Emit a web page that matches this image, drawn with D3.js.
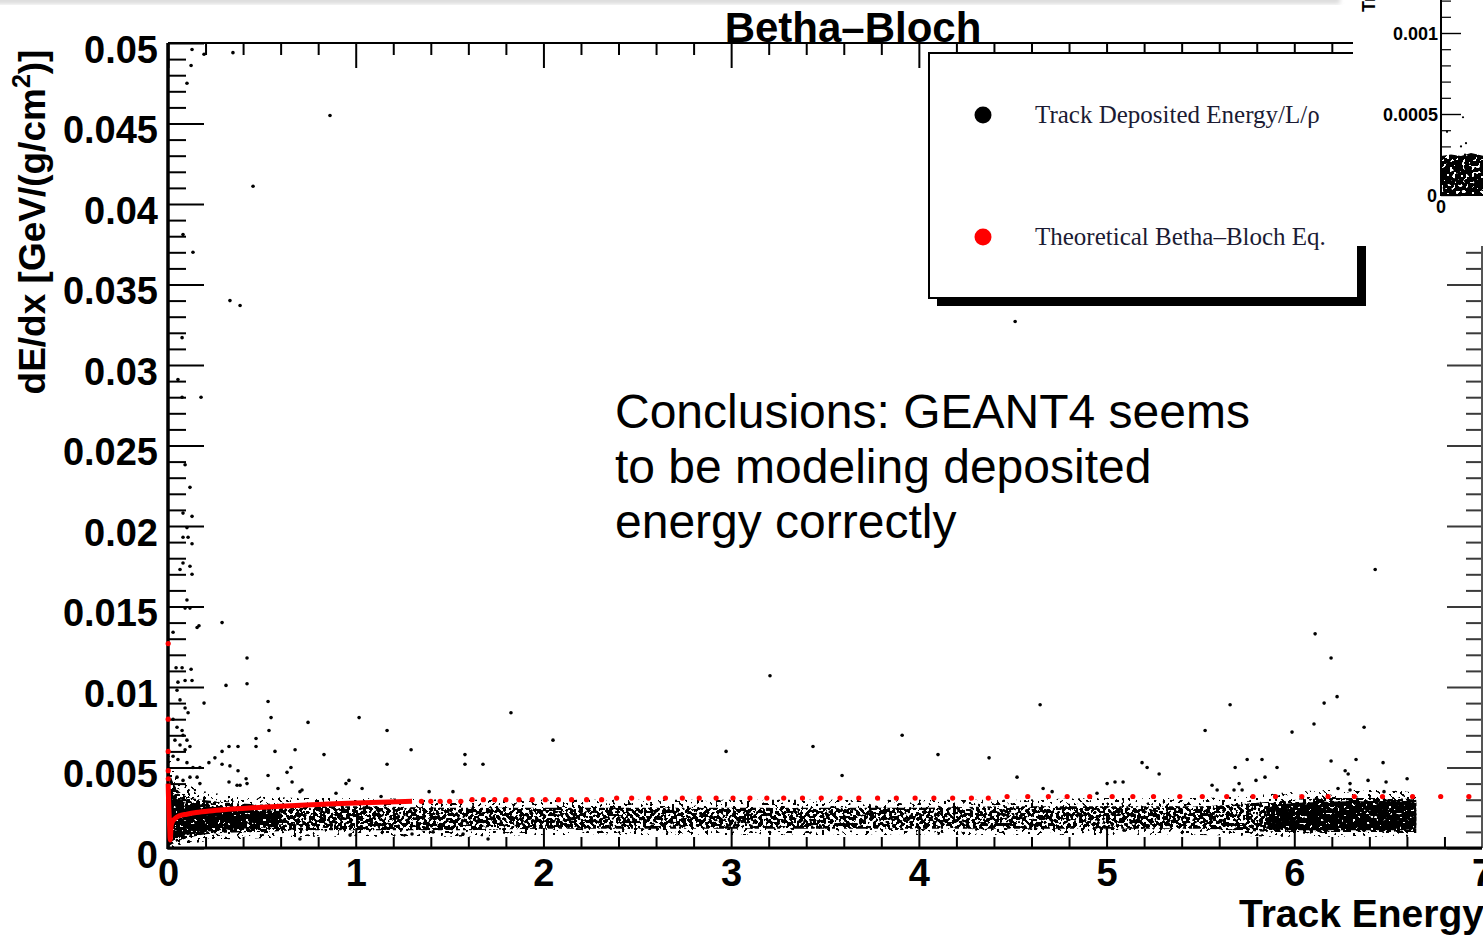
<!DOCTYPE html>
<html>
<head>
<meta charset="utf-8">
<script src="https://cdn.jsdelivr.net/npm/d3@7"></script>
<style>
  html, body { margin: 0; padding: 0; background: #fff; }
  svg { display: block; }
</style>
</head>
<body>
<svg id="chart" width="1483" height="935"></svg>
<script>
// ---- axis ticks ----
const xTicks = [0, 1, 2, 3, 4, 5, 6, 7];
const xTickLabels = ["0", "1", "2", "3", "4", "5", "6", "7"];
const yTicks = [0, 0.005, 0.01, 0.015, 0.02, 0.025, 0.03, 0.035, 0.04, 0.045, 0.05];
const yTickLabels = ["0", "0.005", "0.01", "0.015", "0.02", "0.025", "0.03", "0.035", "0.04", "0.045", "0.05"];

// ---- measured dE/dx: dense band of tracks (extent per energy) ----
const bandX  = [0, 0.03, 0.1, 0.25, 0.5, 0.75, 1, 1.5, 2, 2.5, 3, 3.5, 4, 4.5, 5, 5.5, 5.9, 6.2, 6.5, 6.65];
const bandLo = [0.0001, 0.0003, 0.0006, 0.0009, 0.0010, 0.0011, 0.0011, 0.0011, 0.0012, 0.0012, 0.0012, 0.0012, 0.0012, 0.0012, 0.0012, 0.0012, 0.0010, 0.0010, 0.0010, 0.0010];
const bandHi = [0.0050, 0.0040, 0.0032, 0.0029, 0.0027, 0.0026, 0.0026, 0.0025, 0.0025, 0.0025, 0.0025, 0.0025, 0.0025, 0.0026, 0.0026, 0.0026, 0.0029, 0.0031, 0.0031, 0.0030];
// sparse tails just outside the band
const tailLo = [0.0000, 0.0000, 0.0002, 0.0005, 0.0006, 0.0007, 0.0007, 0.0007, 0.0008, 0.0008, 0.0008, 0.0008, 0.0008, 0.0008, 0.0008, 0.0008, 0.0007, 0.0007, 0.0007, 0.0007];
const tailHi = [0.0060, 0.0050, 0.0040, 0.0034, 0.0032, 0.0031, 0.0031, 0.0030, 0.0030, 0.0030, 0.0030, 0.0030, 0.0030, 0.0030, 0.0031, 0.0031, 0.0034, 0.0036, 0.0036, 0.0034];
// most populated parts of the band
const coreX  = [0, 0.05, 0.2, 0.4, 0.6];
const coreLo = [0.0002, 0.0006, 0.0010, 0.0012, 0.0013];
const coreHi = [0.0040, 0.0030, 0.0026, 0.0024, 0.0023];
const core2X  = [5.85, 6.0, 6.3, 6.55, 6.65];
const core2Lo = [0.0012, 0.0011, 0.0011, 0.0011, 0.0012];
const core2Hi = [0.0025, 0.0028, 0.0029, 0.0029, 0.0028];

// ---- measured dE/dx: individual tracks outside the band ----
const trackE = [0.128,0.192,0.346,0.123,0.101,0.863,0.453,0.080,0.133,0.330,0.384,0.075,4.513,0.053,0.176,0.075,0.091,0.117,0.080,0.128,
  0.101,0.080,0.107,0.128,0.080,0.117,0.064,0.128,0.101,0.091,0.117,0.155,6.431,0.165,0.288,0.027,6.111,6.196,0.421,0.043,
  0.075,0.123,0.053,0.091,0.128,0.421,0.309,3.207,0.048,0.064,0.533,0.192,6.159,6.228,5.658,4.646,0.091,1.827,0.107,0.549,
  1.018,0.027,0.746,6.105,0.048,0.075,5.988,5.525,6.372,0.538,1.167,0.080,3.911,0.101,0.037,2.051,0.469,0.064,0.117,0.373,
  0.325,0.469,3.436,0.677,1.295,0.091,2.973,0.570,0.288,1.582,4.102,0.831,0.027,4.374,0.250,6.329,5.749,5.828,0.053,6.196,
  5.189,6.473,0.218,0.101,1.582,0.288,1.678,1.167,0.330,0.133,5.216,5.908,0.655,0.170,5.685,0.373,6.271,6.287,5.280,0.634,
  0.533,3.591,4.523,0.048,0.117,0.155,5.844,0.416,6.601,6.393,5.796,0.080,0.964,6.489,0.661,0.325,5.045,5.088,5.003,5.706,
  0.170,0.421,0.948,0.368,5.562,6.297,0.384,1.034,0.586,4.662,6.233,5.679,5.722,5.589,6.297,0.714,6.478,4.710,0.703,1.391,
  1.518,4.949,0.895,1.135,0.703,0.970,1.300,1.412,1.572,1.705,5.093];
const trackDEdx = [0.0496,0.0493,0.0494,0.0486,0.0475,0.0455,0.0411,0.0381,0.0370,0.0340,0.0337,0.0317,0.0327,0.0291,0.0280,0.0280,0.0238,0.0224,0.0208,0.0206,
  0.0199,0.0193,0.0193,0.0189,0.0177,0.0175,0.0173,0.0170,0.0154,0.0149,0.0149,0.0137,0.0173,0.0138,0.0140,0.0134,0.0133,0.0118,0.0118,0.0112,
  0.0112,0.0111,0.0103,0.0104,0.0104,0.0102,0.0101,0.0107,0.0098,0.0092,0.0091,0.0090,0.0090,0.0094,0.0089,0.0089,0.0087,0.0084,0.0084,0.0081,
  0.0081,0.0080,0.0078,0.0077,0.0075,0.0073,0.0072,0.0073,0.0075,0.0073,0.0073,0.0070,0.0070,0.0067,0.0067,0.0067,0.0068,0.0064,0.0063,0.0063,
  0.0063,0.0063,0.0063,0.0061,0.0061,0.0061,0.0060,0.0060,0.0060,0.0058,0.0058,0.0058,0.0057,0.0056,0.0056,0.0055,0.0055,0.0055,0.0055,0.0054,
  0.0053,0.0053,0.0053,0.0053,0.0052,0.0052,0.0052,0.0052,0.0051,0.0050,0.0050,0.0050,0.0050,0.0050,0.0050,0.0048,0.0048,0.0046,0.0046,0.0047,
  0.0045,0.0045,0.0044,0.0044,0.0044,0.0044,0.0044,0.0043,0.0043,0.0042,0.0042,0.0042,0.0042,0.0041,0.0041,0.0041,0.0041,0.0041,0.0040,0.0040,
  0.0040,0.0040,0.0040,0.0039,0.0039,0.0040,0.0039,0.0037,0.0037,0.0037,0.0037,0.0036,0.0036,0.0036,0.0036,0.0036,0.0035,0.0035,0.0035,0.0035,
  0.0035,0.0034,0.0034,0.0032,0.00056,0.0008,0.00087,0.0010,0.00087,0.00056,0.0011];

// ---- theoretical Bethe-Bloch curve ----
const theoryLineE = [0.001,0.002,0.003,0.005,0.007,0.009,0.012,0.016,0.022,0.035,0.06,0.1,0.15,0.22,0.32,0.45,0.6,0.8,1.0,1.3];
const theoryLineV = [0.0040,0.0034,0.0030,0.0024,0.0018,0.0012,0.0005,0.0013,0.0016,0.0018,0.0020,0.0021,0.0022,0.0023,0.0024,0.0025,0.0026,0.0027,0.0028,0.0029];
const theoryDotE = [0.001,0.001,0.0012,0.0014,0.0016,
  1.35,1.4,1.45,1.5,1.56,1.62,1.68,1.74,1.8,1.87,1.94,2.01,2.08,2.15,2.23,2.31,2.39,2.47,2.56,2.65,2.74,2.83,2.92,3.01,3.1,3.19,3.28,3.38,3.48,3.58,
  3.68,3.78,3.88,3.98,4.08,4.18,4.28,4.37,4.47,4.58,4.69,4.79,4.91,5.03,5.14,5.25,5.39,5.51,5.64,5.78,5.9,6.04,6.18,6.32,6.47,6.63,6.78,6.93];
const theoryDotV = [0.0127,0.0080,0.0060,0.0048,0.0043,
  0.0029,0.0029,0.0029,0.0029,0.0029,0.0030,0.0030,0.0030,0.0030,0.0030,0.0030,0.0030,0.0030,0.0030,0.0030,0.0030,0.0031,0.0031,0.0031,0.0031,0.0031,0.0031,0.0031,0.0031,0.0031,0.0031,0.0031,0.0031,0.0031,0.0031,
  0.0031,0.0031,0.0031,0.0031,0.0031,0.0031,0.0031,0.0031,0.0032,0.0032,0.0032,0.0032,0.0032,0.0032,0.0032,0.0032,0.0032,0.0032,0.0032,0.0032,0.0032,0.0032,0.0032,0.0032,0.0032,0.0032,0.0032,0.0032];

// ---- neighbouring panel (deposited energy) ----
const sideTicks = [0, 0.0005, 0.001];
const sideTickLabels = ["0", "0.0005", "0.001"];
const sideBandX  = [0, 0.05, 0.1, 0.15, 0.22];
const sideBandLo = [0.00000, 0.00000, 0.00000, 0.00000, 0.00000];
const sideBandHi = [0.00024, 0.00025, 0.00024, 0.00026, 0.00024];
const sideTrackE = [0.11, 0.03, 0.125, 0.10, 0.12];
const sideTrackV = [0.00048, 0.00039, 0.00032, 0.00030, 0.00025];

const legendLabels = ["Track Deposited Energy/L/\u03c1", "Theoretical Betha\u2013Bloch Eq."];
const legendColors = ["#000", "#ff0000"];

// ---------------------------------------------------------------
const svg = d3.select("#chart");
const x = d3.scaleLinear().domain([0, 7]).range([168, 1482]);
const y = d3.scaleLinear().domain([0, 0.05]).range([848, 43]);
const FONT = "'Liberation Sans', Arial, Helvetica, sans-serif";

const defs = svg.append("defs");
// stipple texture: thresholded noise keeps a fraction of the filled area as small dots
function speckle(id, freq, seed, threshold) {
  const slope = 40;
  const f = defs.append("filter").attr("id", id)
    .attr("filterUnits", "userSpaceOnUse")
    .attr("x", 0).attr("y", 0).attr("width", 1483).attr("height", 935)
    .attr("color-interpolation-filters", "sRGB");
  f.append("feTurbulence").attr("type", "fractalNoise")
    .attr("baseFrequency", freq).attr("numOctaves", 1).attr("seed", seed).attr("result", "noise");
  f.append("feColorMatrix").attr("in", "noise").attr("type", "matrix")
    .attr("values", `0 0 0 0 0  0 0 0 0 0  0 0 0 0 0  ${-slope} 0 0 0 ${slope * threshold}`).attr("result", "mask");
  f.append("feComposite").attr("in", "SourceGraphic").attr("in2", "mask").attr("operator", "in");
}
speckle("speckleTail", 0.32, 3, 0.40);
speckle("speckleBand", 0.30, 7, 0.53);
speckle("speckleCore", 0.32, 11, 0.63);
defs.append("filter").attr("id", "haze").append("feGaussianBlur").attr("stdDeviation", 2);

// faint grey strip along the top edge
svg.append("rect").attr("x", -10).attr("y", -6).attr("width", 1350).attr("height", 10)
  .attr("fill", "#dcdcdc").attr("filter", "url(#haze)");

// ---- axes (ticks point inward) ----
const xMinor = x.ticks(35).filter(d => Math.abs(d - Math.round(d)) > 1e-6);
const yMinor = y.ticks(50).filter(d => Math.abs(d / 0.005 - Math.round(d / 0.005)) > 1e-6);

function styleAxis(g, color = "#000") {
  g.select(".domain").remove();
  g.selectAll(".tick line").attr("stroke", color).attr("stroke-width", 2);
  g.selectAll("text").attr("fill", "#000").attr("font-family", FONT)
    .attr("font-weight", "bold").attr("font-size", 38);
}

svg.append("g").attr("transform", "translate(168,0)")
  .call(d3.axisLeft(y).tickValues(yMinor).tickSize(-18).tickFormat("")).call(styleAxis);
svg.append("g").attr("transform", "translate(168,0)")
  .call(d3.axisLeft(y).tickValues(yTicks).tickFormat((d, i) => yTickLabels[i]).tickSize(-36).tickPadding(10))
  .call(styleAxis)
  .selectAll("text").attr("dy", "0.5em");

svg.append("g").attr("transform", "translate(1482,0)")
  .call(d3.axisRight(y).tickValues(yMinor).tickSize(-16).tickFormat("")).call(g => styleAxis(g, "#3a3a3a"));
svg.append("g").attr("transform", "translate(1482,0)")
  .call(d3.axisRight(y).tickValues(yTicks).tickSize(-35).tickFormat("")).call(g => styleAxis(g, "#3a3a3a"));

svg.append("g").attr("transform", "translate(0,848)")
  .call(d3.axisBottom(x).tickValues(xMinor).tickSize(-11).tickFormat("")).call(styleAxis);
svg.append("g").attr("transform", "translate(0,848)")
  .call(d3.axisBottom(x).tickValues(xTicks).tickFormat((d, i) => xTickLabels[i]).tickSize(-20).tickPadding(11))
  .call(styleAxis);

svg.append("g").attr("transform", "translate(0,43)")
  .call(d3.axisTop(x).tickValues(xMinor).tickSize(-12).tickFormat("")).call(styleAxis);
svg.append("g").attr("transform", "translate(0,43)")
  .call(d3.axisTop(x).tickValues(xTicks).tickSize(-25).tickFormat("")).call(styleAxis);

// frame
const frame = svg.append("g").attr("stroke", "#000").attr("fill", "none");
frame.append("line").attr("x1", x(0)).attr("x2", x(7)).attr("y1", y(0.05)).attr("y2", y(0.05)).attr("stroke-width", 2);
frame.append("line").attr("x1", x(7)).attr("x2", x(7)).attr("y1", y(0.05)).attr("y2", y(0)).attr("stroke-width", 2).attr("stroke", "#555");
frame.append("line").attr("x1", x(0) - 1).attr("x2", x(7)).attr("y1", y(0)).attr("y2", y(0)).attr("stroke-width", 3);
frame.append("line").attr("x1", x(0)).attr("x2", x(0)).attr("y1", y(0.05)).attr("y2", y(0) + 1).attr("stroke-width", 3.5);

// ---- measured band ----
const bandArea = d3.area().x(d => x(d[0])).y0(d => y(d[1])).y1(d => y(d[2])).curve(d3.curveMonotoneX);
svg.append("g").attr("filter", "url(#speckleTail)")
  .append("path").datum(bandX.map((e, i) => [e, tailLo[i], tailHi[i]])).attr("d", bandArea).attr("fill", "#000");
svg.append("g").attr("filter", "url(#speckleBand)")
  .append("path").datum(bandX.map((e, i) => [e, bandLo[i], bandHi[i]])).attr("d", bandArea).attr("fill", "#000");
const coreG = svg.append("g").attr("filter", "url(#speckleCore)");
coreG.append("path").datum(coreX.map((e, i) => [e, coreLo[i], coreHi[i]])).attr("d", bandArea).attr("fill", "#000");
coreG.append("path").datum(core2X.map((e, i) => [e, core2Lo[i], core2Hi[i]])).attr("d", bandArea).attr("fill", "#000");

// ---- theoretical curve ----
const theoryLine = d3.line().x(d => x(d[0])).y(d => y(d[1])).curve(d3.curveMonotoneX);
svg.append("path").datum(theoryLineE.map((e, i) => [e, theoryLineV[i]]))
  .attr("d", theoryLine).attr("fill", "none").attr("stroke", "#ff0000").attr("stroke-width", 5)
  .attr("stroke-linejoin", "round");
svg.append("g").selectAll("circle").data(theoryDotE.map((e, i) => [e, theoryDotV[i]])).join("circle")
  .attr("cx", d => x(d[0])).attr("cy", d => y(d[1])).attr("r", 2.6).attr("fill", "#ff0000");

// ---- individual tracks ----
svg.append("g").selectAll("circle").data(trackE.map((e, i) => [e, trackDEdx[i]])).join("circle")
  .attr("cx", d => x(d[0])).attr("cy", d => y(d[1])).attr("r", 1.8).attr("fill", "#000");

// ---- title ----
svg.append("text").attr("x", 853).attr("y", 42).attr("text-anchor", "middle")
  .attr("font-family", FONT).attr("font-weight", "bold").attr("font-size", 42)
  .text("Betha\u2013Bloch");

// ---- axis titles ----
svg.append("text").attr("x", 1239).attr("y", 927)
  .attr("font-family", FONT).attr("font-weight", "bold").attr("font-size", 39)
  .text("Track Energy");
const yTitle = svg.append("text").attr("transform", "translate(45,222) rotate(-90)")
  .attr("text-anchor", "middle")
  .attr("font-family", FONT).attr("font-weight", "bold").attr("font-size", 37);
yTitle.append("tspan").text("dE/dx [GeV/(g/cm");
yTitle.append("tspan").attr("font-size", 25).attr("dy", -15).text("2");
yTitle.append("tspan").attr("dy", 15).text(")]");

// ---- legend ----
const leg = svg.append("g");
leg.append("rect").attr("x", 937).attr("y", 61).attr("width", 429).attr("height", 245).attr("fill", "#000");
leg.append("rect").attr("x", 929).attr("y", 53).attr("width", 429).attr("height", 245)
  .attr("fill", "#fff").attr("stroke", "#000").attr("stroke-width", 2);
legendLabels.forEach((label, i) => {
  const cy = 115 + i * 122;
  leg.append("circle").attr("cx", 983).attr("cy", cy).attr("r", 8.5).attr("fill", legendColors[i]);
  leg.append("text").attr("x", 1035).attr("y", cy + 8)
    .attr("font-family", "'Liberation Serif', 'Times New Roman', serif").attr("font-size", 25)
    .attr("fill", "#1b1b33").text(label);
});

// ---- annotation ----
const note = svg.append("text").attr("font-family", FONT).attr("font-size", 48).attr("fill", "#000");
["Conclusions: GEANT4 seems", "to be modeling deposited", "energy correctly"].forEach((line, i) => {
  note.append("tspan").attr("x", 615).attr("y", 428 + i * 55).text(line);
});

// ---- neighbouring panel in the upper right corner ----
const side = svg.append("g");
side.append("rect").attr("x", 1353).attr("y", 0).attr("width", 130).attr("height", 246).attr("fill", "#fff");
const sx = d3.scaleLinear().domain([0, 1]).range([1441, 1641]);
const sy = d3.scaleLinear().domain([0, 0.001]).range([195, 33]);
const sMinor = d3.range(0, 13).map(k => k * 0.0001).filter(v => Math.abs(v / 0.0005 - Math.round(v / 0.0005)) > 1e-6);
side.append("g").attr("transform", "translate(1441,0)")
  .call(d3.axisRight(sy).tickValues(sMinor).tickSize(10).tickFormat(""))
  .call(g => { g.select(".domain").remove(); g.selectAll("line").attr("stroke", "#000").attr("stroke-width", 1.2); });
side.append("g").attr("transform", "translate(1441,0)")
  .call(d3.axisRight(sy).tickValues(sideTicks).tickSize(20).tickFormat(""))
  .call(g => { g.select(".domain").remove(); g.selectAll("line").attr("stroke", "#000").attr("stroke-width", 1.4); });
side.append("g").selectAll("text").data(sideTicks).join("text")
  .attr("x", d => d === 0 ? 1437 : 1438).attr("y", d => sy(d) + 7).attr("text-anchor", "end")
  .attr("font-family", FONT).attr("font-weight", "bold").attr("font-size", 18)
  .text((d, i) => sideTickLabels[i]);
side.append("text").attr("x", sx(0)).attr("y", 213).attr("text-anchor", "middle")
  .attr("font-family", FONT).attr("font-weight", "bold").attr("font-size", 18).text("0");
const sideBandArea = d3.area().x(d => sx(d[0])).y0(d => sy(d[1])).y1(d => sy(d[2]));
const sideClip = defs.append("clipPath").attr("id", "sideClip");
sideClip.append("rect").attr("x", 1441).attr("y", 0).attr("width", 42).attr("height", 196);
side.append("g").attr("clip-path", "url(#sideClip)").append("g").attr("filter", "url(#speckleCore)")
  .append("path").datum(sideBandX.map((e, i) => [e, sideBandLo[i], sideBandHi[i]]))
  .attr("d", sideBandArea).attr("fill", "#000");
side.append("g").selectAll("circle").data(sideTrackE.map((e, i) => [e, sideTrackV[i]])).join("circle")
  .attr("cx", d => sx(d[0])).attr("cy", d => sy(d[1])).attr("r", 1.1).attr("fill", "#000");
side.append("line").attr("x1", 1441).attr("x2", 1441).attr("y1", 0).attr("y2", 196).attr("stroke", "#000").attr("stroke-width", 2);
side.append("line").attr("x1", 1440).attr("x2", 1483).attr("y1", 195).attr("y2", 195).attr("stroke", "#000").attr("stroke-width", 2);
side.append("text").attr("transform", "translate(1375,12) rotate(-90)")
  .attr("font-family", FONT).attr("font-weight", "bold").attr("font-size", 18)
  .text("Track Deposited Energy");
</script>
</body>
</html>
